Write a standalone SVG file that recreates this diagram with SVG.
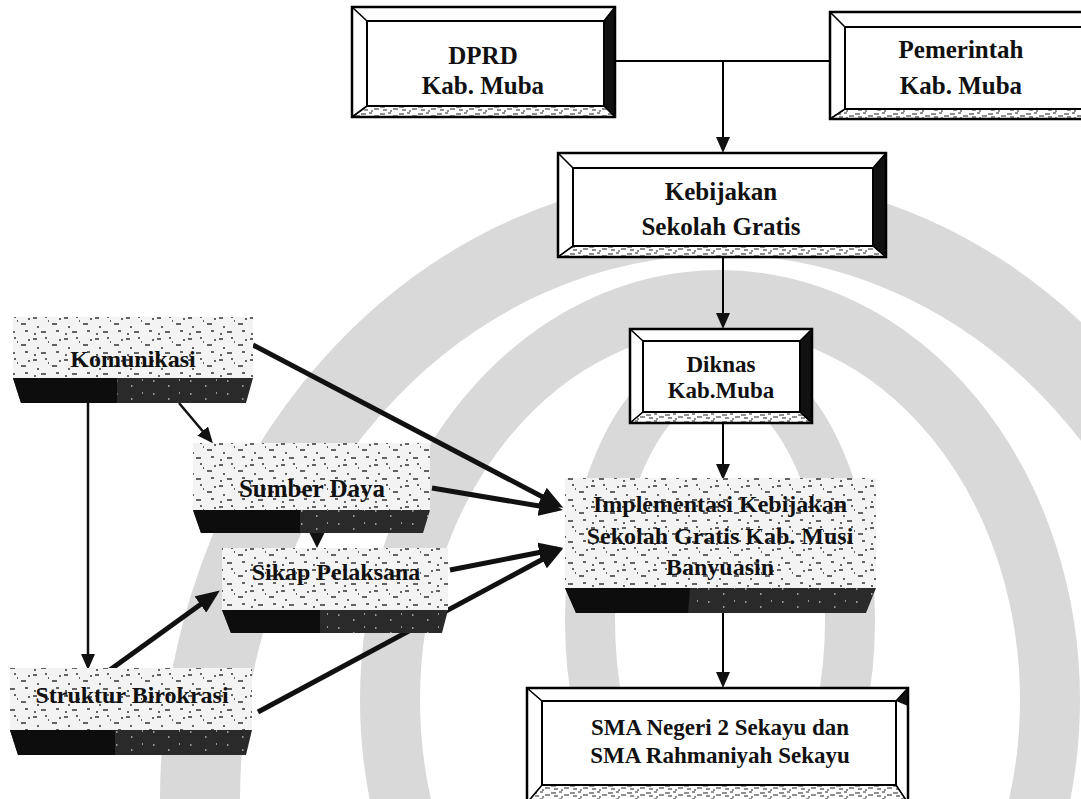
<svg xmlns="http://www.w3.org/2000/svg" width="1081" height="799" viewBox="0 0 1081 799">
<style>
.t{font-family:"Liberation Serif","Times New Roman",serif;font-weight:bold;text-anchor:middle;fill:#111}
.f25{font-size:25px}.f24{font-size:24px}.f23{font-size:23px}
.frame{fill:none;stroke:#000;stroke-width:2.5}
.inner{fill:#fff;stroke:#000;stroke-width:2}
.diag{fill:none;stroke:#000;stroke-width:1.6}
.bevd{fill:#111}
.bevb{fill:url(#grain);stroke:#000;stroke-width:1}
.face{fill:url(#speck)}
.band{fill:url(#bandp)}
.bandk{fill:#0d0d0d}
.ln{fill:none;stroke:#000;stroke-width:2}
.thin{fill:none;stroke:#111;stroke-width:2.5;marker-end:url(#ahs)}
.thick{fill:none;stroke:#111;stroke-width:5;marker-end:url(#ahb)}
</style>
<defs>
<pattern id="speck" patternUnits="userSpaceOnUse" width="31" height="21">
<rect width="31" height="21" fill="#f3f3f3"/>
<path d="M2 3h4M14 2h2M21 9h5M6 12h2M25 16h3M10 17h5M17 6h1M28 4h2M3 19h2" stroke="#333" stroke-width="1.3"/>
</pattern>
<pattern id="grain" patternUnits="userSpaceOnUse" width="19" height="7">
<rect width="19" height="7" fill="#fff"/>
<path d="M0 2h5M8 1h3M13 4h5M3 5h4M10 6h2" stroke="#222" stroke-width="1.2"/>
</pattern>
<pattern id="bandp" patternUnits="userSpaceOnUse" width="37" height="13">
<rect width="37" height="13" fill="#2a2a2a"/>
<path d="M5 4h1.5M20 9h1.5M31 3h1" stroke="#bbb" stroke-width="1.3"/>
</pattern>
<marker id="ahs" viewBox="0 0 16 14" refX="13" refY="7" markerWidth="16" markerHeight="14" markerUnits="userSpaceOnUse" orient="auto">
<path d="M0 0L16 7L0 14Z" fill="#111"/>
</marker>
<marker id="ahb" viewBox="0 0 24 20" refX="18" refY="10" markerWidth="24" markerHeight="20" markerUnits="userSpaceOnUse" orient="auto">
<path d="M0 0L24 10L0 20Z" fill="#111"/>
</marker>
</defs>
<rect width="1081" height="799" fill="#fff"/>
<g id="watermark" fill="none" stroke="#d9d9d9">
<ellipse cx="720" cy="800" rx="520" ry="585" stroke-width="80"/>
<ellipse cx="720" cy="700" rx="330" ry="400" stroke-width="60"/>
<ellipse cx="720" cy="620" rx="130" ry="250" stroke-width="50"/>
</g>
<g id="connectors">
<path class="ln" d="M615 61H830M723 61V150" marker-end="url(#ahs)"/>
<path class="ln" d="M723 257V326" marker-end="url(#ahs)"/>
<path class="ln" d="M723 423V477" marker-end="url(#ahs)"/>
<path class="ln" d="M723 613V685" marker-end="url(#ahs)"/>
<path class="thin" d="M88 403V667"/>
<path class="thin" d="M179 403L211 441"/>
<path class="thick" d="M253 345L558 505"/>
<path class="thick" d="M432 488L557 509"/>
<path class="thick" d="M450 570L557 549"/>
<path class="thick" d="M258 712L558 551"/>
<path class="thick" d="M107 672L215 594"/>
<path d="M309 532H325L317 548Z" fill="#111"/>
</g>
<g id="dprd">
<rect x="352" y="7" width="263" height="110" fill="#fff"/>
<polygon class="bevb" points="352,117 615,117 604,106 367,106"/>
<polygon class="bevd" points="615,7 615,117 604,106 604,21"/>
<rect class="inner" x="367" y="21" width="237" height="85"/>
<rect class="frame" x="352" y="7" width="263" height="110"/>
<path class="diag" d="M352 7L367 21M615 7L604 21M352 117L367 106M615 117L604 106"/>
<text class="t f25" x="483" y="64">DPRD</text>
<text class="t f25" x="483" y="94">Kab. Muba</text>
</g>
<g id="pemerintah">
<rect x="830" y="12" width="262" height="107" fill="#fff"/>
<polygon class="bevb" points="830,119 1092,119 1086,109 845,109"/>
<rect class="inner" x="845" y="27" width="241" height="82"/>
<rect class="frame" x="830" y="12" width="262" height="107"/>
<path class="diag" d="M830 12L845 27M830 119L845 109"/>
<text class="t f25" x="961" y="58">Pemerintah</text>
<text class="t f25" x="961" y="94">Kab. Muba</text>
</g>
<g id="kebijakan">
<rect x="558" y="153" width="328" height="104" fill="#fff"/>
<polygon class="bevb" points="558,257 886,257 873,246 573,246"/>
<polygon class="bevd" points="886,153 886,257 873,246 873,168"/>
<rect class="inner" x="573" y="168" width="300" height="78"/>
<rect class="frame" x="558" y="153" width="328" height="104"/>
<path class="diag" d="M558 153L573 168M886 153L873 168M558 257L573 246M886 257L873 246"/>
<text class="t f25" x="721" y="200">Kebijakan</text>
<text class="t f25" x="721" y="235">Sekolah Gratis</text>
</g>
<g id="diknas">
<rect x="630" y="329" width="182" height="94" fill="#fff"/>
<polygon class="bevb" points="630,423 812,423 800,412 643,412"/>
<polygon class="bevd" points="812,329 812,423 800,412 800,341"/>
<rect class="inner" x="643" y="341" width="157" height="71"/>
<rect class="frame" x="630" y="329" width="182" height="94"/>
<path class="diag" d="M630 329L643 341M812 329L800 341M630 423L643 412M812 423L800 412"/>
<text class="t f23" x="721" y="372">Diknas</text>
<text class="t f23" x="721" y="398">Kab.Muba</text>
</g>
<g id="implementasi">
<rect class="face" x="565" y="478" width="311" height="110"/>
<path class="band" d="M565 588H876L866 613H576Z"/>
<path class="bandk" d="M565 588H690L688 613H576Z"/>
<text class="t f24" x="720" y="512">Implementasi Kebijakan</text>
<text class="t f24" x="720" y="544">Sekolah Gratis Kab. Musi</text>
<text class="t f24" x="720" y="575">Banyuasin</text>
</g>
<g id="sma">
<rect x="527" y="688" width="381" height="115" fill="#fff"/>
<polygon class="bevb" points="527,803 908,803 896,785 542,785"/>
<polygon class="bevd" points="908,688 908,706 896,701"/>
<rect class="inner" x="542" y="701" width="354" height="84"/>
<rect class="frame" x="527" y="688" width="381" height="115"/>
<path class="diag" d="M527 688L542 701M908 688L896 701M527 803L542 785M908 803L896 785"/>
<text class="t f23" x="720" y="735">SMA Negeri 2 Sekayu dan</text>
<text class="t f23" x="720" y="763">SMA Rahmaniyah Sekayu</text>
</g>
<g id="komunikasi">
<rect class="face" x="13" y="317" width="240" height="61"/>
<path class="band" d="M13 378H253L246 403H21Z"/>
<path class="bandk" d="M13 378H117V403H21Z"/>
<text class="t f24" x="133" y="367">Komunikasi</text>
</g>
<g id="sumber-daya">
<rect class="face" x="193" y="443" width="237" height="67"/>
<path class="band" d="M193 510H430L423 533H201Z"/>
<path class="bandk" d="M193 510H300V533H201Z"/>
<text class="t f25" x="312" y="497">Sumber Daya</text>
</g>
<g id="sikap-pelaksana">
<rect class="face" x="222" y="548" width="226" height="62"/>
<path class="band" d="M222 610H448L442 633H231Z"/>
<path class="bandk" d="M222 610H320V633H231Z"/>
<text class="t f24" x="336" y="580">Sikap Pelaksana</text>
</g>
<g id="struktur-birokrasi">
<rect class="face" x="10" y="668" width="242" height="62"/>
<path class="band" d="M10 730H252L246 755H18Z"/>
<path class="bandk" d="M10 730H115V755H18Z"/>
<text class="t f24" x="132" y="703">Struktur Birokrasi</text>
</g>
</svg>
